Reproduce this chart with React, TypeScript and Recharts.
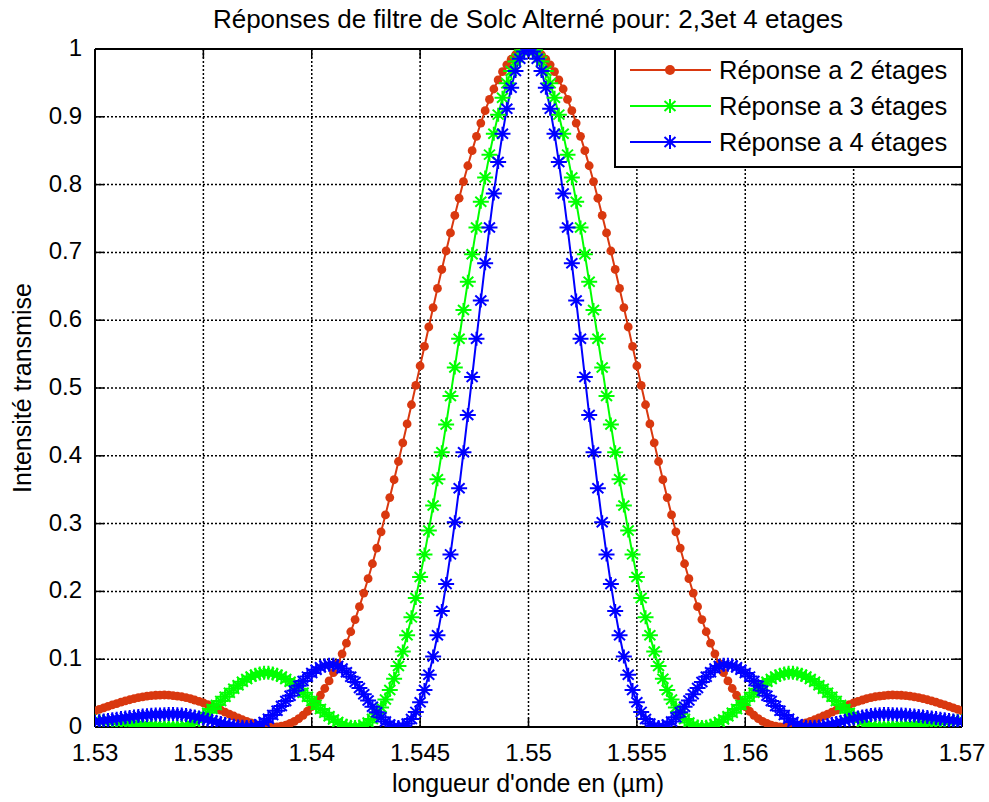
import React from 'react';
import { LineChart, Line, XAxis, YAxis, CartesianGrid, ReferenceLine } from 'recharts';

// wavelength sampling (um): 1.53:0.0002:1.57
const LAMBDA_START = 1.53;
const LAMBDA_STEP = 0.0002;
const LAMBDA_COUNT = 201;
const WAVELENGTH: number[] = Array.from({ length: LAMBDA_COUNT }, (_, i) =>
  Number((LAMBDA_START + i * LAMBDA_STEP).toFixed(4))
);

// transmitted intensity
const REPONSE_2: number[] = [
  0.0236, 0.0259, 0.0281, 0.0303, 0.0325, 0.0346, 0.0366, 0.0385, 0.0402, 0.0418,
  0.0433, 0.0445, 0.0455, 0.0463, 0.0468, 0.0471, 0.0472, 0.0469, 0.0464, 0.0456,
  0.0446, 0.0433, 0.0417, 0.0398, 0.0378, 0.0355, 0.0331, 0.0304, 0.0277, 0.0249,
  0.0220, 0.0191, 0.0162, 0.0134, 0.0107, 0.0082, 0.0060, 0.0040, 0.0023, 0.0011,
  0.0003, 0.0000, 0.0003, 0.0012, 0.0028, 0.0052, 0.0084, 0.0124, 0.0173, 0.0232,
  0.0300, 0.0379, 0.0468, 0.0568, 0.0679, 0.0801, 0.0935, 0.1080, 0.1236, 0.1405,
  0.1584, 0.1775, 0.1976, 0.2187, 0.2408, 0.2639, 0.2879, 0.3128, 0.3384, 0.3647,
  0.3916, 0.4191, 0.4470, 0.4753, 0.5038, 0.5326, 0.5613, 0.5900, 0.6186, 0.6469,
  0.6748, 0.7021, 0.7287, 0.7546, 0.7799, 0.8045, 0.8278, 0.8501, 0.8712, 0.8908,
  0.9090, 0.9256, 0.9410, 0.9544, 0.9665, 0.9766, 0.9849, 0.9915, 0.9962, 0.9991,
  1,
  0.9991, 0.9962, 0.9915, 0.9849, 0.9766, 0.9665, 0.9544, 0.9410, 0.9256, 0.9090,
  0.8908, 0.8712, 0.8501, 0.8278, 0.8045, 0.7799, 0.7546, 0.7287, 0.7021, 0.6748,
  0.6469, 0.6186, 0.5900, 0.5613, 0.5326, 0.5038, 0.4753, 0.4470, 0.4191, 0.3916,
  0.3647, 0.3384, 0.3128, 0.2879, 0.2639, 0.2408, 0.2187, 0.1976, 0.1775, 0.1584,
  0.1405, 0.1236, 0.1080, 0.0935, 0.0801, 0.0679, 0.0568, 0.0468, 0.0379, 0.0300,
  0.0232, 0.0173, 0.0124, 0.0084, 0.0052, 0.0028, 0.0012, 0.0003, 0.0000, 0.0003,
  0.0011, 0.0023, 0.0040, 0.0060, 0.0082, 0.0107, 0.0134, 0.0162, 0.0191, 0.0220,
  0.0249, 0.0277, 0.0304, 0.0331, 0.0355, 0.0378, 0.0398, 0.0417, 0.0433, 0.0446,
  0.0456, 0.0464, 0.0469, 0.0472, 0.0471, 0.0468, 0.0463, 0.0455, 0.0445, 0.0433,
  0.0418, 0.0402, 0.0385, 0.0366, 0.0346, 0.0325, 0.0303, 0.0281, 0.0259, 0.0236,
];

const REPONSE_3: number[] = [
  0.0090, 0.0089, 0.0088, 0.0085, 0.0081, 0.0075, 0.0070, 0.0063, 0.0056, 0.0049,
  0.0041, 0.0034, 0.0027, 0.0020, 0.0015, 0.0009, 0.0005, 0.0002, 0.0001, 0.0000,
  0.0005, 0.0019, 0.0042, 0.0073, 0.0112, 0.0158, 0.0209, 0.0265, 0.0324, 0.0385,
  0.0446, 0.0506, 0.0564, 0.0617, 0.0666, 0.0709, 0.0744, 0.0771, 0.0789, 0.0799,
  0.0799, 0.0789, 0.0771, 0.0744, 0.0709, 0.0666, 0.0617, 0.0564, 0.0506, 0.0446,
  0.0385, 0.0324, 0.0265, 0.0209, 0.0158, 0.0112, 0.0073, 0.0042, 0.0019, 0.0005,
  0.0000, 0.0007, 0.0027, 0.0065, 0.0119, 0.0194, 0.0289, 0.0406, 0.0547, 0.0712,
  0.0901, 0.1115, 0.1353, 0.1617, 0.1904, 0.2214, 0.2546, 0.2898, 0.3267, 0.3653,
  0.4053, 0.4463, 0.4881, 0.5304, 0.5728, 0.6150, 0.6566, 0.6974, 0.7368, 0.7747,
  0.8106, 0.8442, 0.8751, 0.9032, 0.9281, 0.9496, 0.9675, 0.9817, 0.9918, 0.9980,
  1,
  0.9980, 0.9918, 0.9817, 0.9675, 0.9496, 0.9281, 0.9032, 0.8751, 0.8442, 0.8106,
  0.7747, 0.7368, 0.6974, 0.6566, 0.6150, 0.5728, 0.5304, 0.4881, 0.4463, 0.4053,
  0.3653, 0.3267, 0.2898, 0.2546, 0.2214, 0.1904, 0.1617, 0.1353, 0.1115, 0.0901,
  0.0712, 0.0547, 0.0406, 0.0289, 0.0194, 0.0119, 0.0065, 0.0027, 0.0007, 0.0000,
  0.0005, 0.0019, 0.0042, 0.0073, 0.0112, 0.0158, 0.0209, 0.0265, 0.0324, 0.0385,
  0.0446, 0.0506, 0.0564, 0.0617, 0.0666, 0.0709, 0.0744, 0.0771, 0.0789, 0.0799,
  0.0799, 0.0789, 0.0771, 0.0744, 0.0709, 0.0666, 0.0617, 0.0564, 0.0506, 0.0446,
  0.0385, 0.0324, 0.0265, 0.0209, 0.0158, 0.0112, 0.0073, 0.0042, 0.0019, 0.0005,
  0.0000, 0.0001, 0.0002, 0.0005, 0.0009, 0.0015, 0.0020, 0.0027, 0.0034, 0.0041,
  0.0049, 0.0056, 0.0063, 0.0070, 0.0075, 0.0081, 0.0085, 0.0088, 0.0089, 0.0090,
];

const REPONSE_4: number[] = [
  0.0076, 0.0086, 0.0095, 0.0104, 0.0114, 0.0123, 0.0131, 0.0140, 0.0148, 0.0155,
  0.0162, 0.0168, 0.0174, 0.0179, 0.0183, 0.0186, 0.0188, 0.0190, 0.0190, 0.0188,
  0.0184, 0.0177, 0.0167, 0.0154, 0.0140, 0.0124, 0.0108, 0.0091, 0.0074, 0.0058,
  0.0043, 0.0029, 0.0018, 0.0009, 0.0003, 0.0000, 0.0002, 0.0014, 0.0039, 0.0075,
  0.0122, 0.0177, 0.0241, 0.0311, 0.0384, 0.0460, 0.0536, 0.0609, 0.0679, 0.0743,
  0.0798, 0.0845, 0.0881, 0.0906, 0.0918, 0.0918, 0.0899, 0.0862, 0.0809, 0.0742,
  0.0663, 0.0576, 0.0483, 0.0390, 0.0300, 0.0217, 0.0143, 0.0082, 0.0037, 0.0009,
  0.0000, 0.0012, 0.0050, 0.0119, 0.0223, 0.0365, 0.0547, 0.0772, 0.1041, 0.1353,
  0.1710, 0.2108, 0.2546, 0.3019, 0.3523, 0.4053, 0.4602, 0.5163, 0.5728, 0.6289,
  0.6839, 0.7368, 0.7869, 0.8332, 0.8751, 0.9119, 0.9429, 0.9675, 0.9855, 0.9963,
  1,
  0.9963, 0.9855, 0.9675, 0.9429, 0.9119, 0.8751, 0.8332, 0.7869, 0.7368, 0.6839,
  0.6289, 0.5728, 0.5163, 0.4602, 0.4053, 0.3523, 0.3019, 0.2546, 0.2108, 0.1710,
  0.1353, 0.1041, 0.0772, 0.0547, 0.0365, 0.0223, 0.0119, 0.0050, 0.0012, 0.0000,
  0.0009, 0.0037, 0.0082, 0.0143, 0.0217, 0.0300, 0.0390, 0.0483, 0.0576, 0.0663,
  0.0742, 0.0809, 0.0862, 0.0899, 0.0918, 0.0918, 0.0906, 0.0881, 0.0845, 0.0798,
  0.0743, 0.0679, 0.0609, 0.0536, 0.0460, 0.0384, 0.0311, 0.0241, 0.0177, 0.0122,
  0.0075, 0.0039, 0.0014, 0.0002, 0.0000, 0.0003, 0.0009, 0.0018, 0.0029, 0.0043,
  0.0058, 0.0074, 0.0091, 0.0108, 0.0124, 0.0140, 0.0154, 0.0167, 0.0177, 0.0184,
  0.0188, 0.0190, 0.0190, 0.0188, 0.0186, 0.0183, 0.0179, 0.0174, 0.0168, 0.0162,
  0.0155, 0.0148, 0.0140, 0.0131, 0.0123, 0.0114, 0.0104, 0.0095, 0.0086, 0.0076,
];

const X_TICKS = [1.53, 1.535, 1.54, 1.545, 1.55, 1.555, 1.56, 1.565, 1.57];
const Y_TICKS = [0, 0.1, 0.2, 0.3, 0.4, 0.5, 0.6, 0.7, 0.8, 0.9, 1];

const SERIES_NAMES = ['Réponse a 2 étages', 'Réponse a 3 étages', 'Réponse a 4 étages'];
const TITLE = 'Réponses de filtre de Solc Alterné pour: 2,3et 4 etages';
const X_LABEL = "longueur d'onde en (µm)";
const Y_LABEL = 'Intensité transmise';

const RED = '#d9380f';
const GREEN = '#00ff00';
const BLUE = '#0000ff';
const FONT = '"Liberation Sans", Arial, Helvetica, sans-serif';

const DATA = WAVELENGTH.map((lambda, i) => ({
  lambda,
  r2: REPONSE_2[i],
  r3: REPONSE_3[i],
  r4: REPONSE_4[i],
}));

// plot geometry (px)
const W = 989;
const H = 802;
const M = { top: 49, right: 27, bottom: 35, left: 35 };
const PLOT_W = W - M.left - 60 - M.right;
const PLOT_H = H - M.top - 40 - M.bottom;
const TICK_PX = 9;
const X_MIN = 1.53;
const X_MAX = 1.57;
const TICK_DX = (TICK_PX / PLOT_W) * (X_MAX - X_MIN);
const TICK_DY = TICK_PX / PLOT_H;

const starPath = (cx: number, cy: number) =>
  `M${cx - 8},${cy}H${cx + 8}M${cx},${cy - 7}V${cy + 7}` +
  `M${cx - 5.5},${cy - 5}L${cx + 5.5},${cy + 5}M${cx - 5.5},${cy + 5}L${cx + 5.5},${cy - 5}`;

const renderCircle = (props: any) => {
  const { cx, cy, index } = props;
  if (cx == null || cy == null) return <g key={`c${index}`} />;
  return <circle key={`c${index}`} cx={cx} cy={cy} r={4.4} fill={RED} />;
};

const makeStar = (color: string) => (props: any) => {
  const { cx, cy, index } = props;
  if (cx == null || cy == null) return <g key={`s${index}`} />;
  return <path key={`s${index}`} d={starPath(cx, cy)} stroke={color} strokeWidth={2} fill="none" />;
};

const renderXTick = (props: any) => {
  const { x, y, payload } = props;
  return (
    <text x={x} y={y + 34} textAnchor="middle" fontSize={24} fontFamily={FONT} fill="#000">
      {String(payload.value)}
    </text>
  );
};

const renderYTick = (props: any) => {
  const { x, y, payload } = props;
  return (
    <text x={x - 13} y={y + 7} textAnchor="end" fontSize={24} fontFamily={FONT} fill="#000">
      {String(payload.value)}
    </text>
  );
};

const LegendBox = () => {
  const rows = [
    { name: SERIES_NAMES[0], color: RED, kind: 'dot' },
    { name: SERIES_NAMES[1], color: GREEN, kind: 'star' },
    { name: SERIES_NAMES[2], color: BLUE, kind: 'star' },
  ];
  return (
    <svg width={349} height={120} style={{ position: 'absolute', left: 614, top: 48 }}>
      <rect x={1} y={1} width={347} height={118} fill="#fff" stroke="#000" strokeWidth={2} />
      {rows.map((r, i) => {
        const cy = 22 + i * 36;
        return (
          <g key={r.name}>
            <line x1={16} x2={97} y1={cy} y2={cy} stroke={r.color} strokeWidth={2} />
            {r.kind === 'dot' ? (
              <circle cx={56} cy={cy} r={5} fill={r.color} />
            ) : (
              <path d={starPath(56, cy)} stroke={r.color} strokeWidth={2} fill="none" />
            )}
            <text x={105} y={cy + 9} fontSize={25.5} fontFamily={FONT} fill="#000">
              {r.name}
            </text>
          </g>
        );
      })}
    </svg>
  );
};

export default function App() {
  return (
    <div style={{ position: 'absolute', left: 0, top: 0, width: W, height: H, background: '#fff' }}>
      <LineChart width={W} height={H} data={DATA} margin={M}>
        <CartesianGrid stroke="#000" strokeDasharray="2 2" strokeWidth={1.5} />
        <XAxis
          dataKey="lambda"
          type="number"
          domain={[X_MIN, X_MAX]}
          ticks={X_TICKS}
          interval={0}
          allowDataOverflow
          height={40}
          tickLine={false}
          tickSize={0}
          tickMargin={0}
          axisLine={{ stroke: '#000', strokeWidth: 2 }}
          tick={renderXTick}
        />
        <YAxis
          type="number"
          domain={[0, 1]}
          ticks={Y_TICKS}
          interval={0}
          allowDataOverflow
          width={60}
          tickLine={false}
          tickSize={0}
          tickMargin={0}
          axisLine={{ stroke: '#000', strokeWidth: 2 }}
          tick={renderYTick}
        />
        <ReferenceLine y={1} stroke="#000" strokeWidth={2} />
        <ReferenceLine x={X_MAX} stroke="#000" strokeWidth={2} />
        {X_TICKS.map((t) => (
          <ReferenceLine
            key={`xb${t}`}
            segment={[{ x: t, y: 0 }, { x: t, y: TICK_DY }]}
            stroke="#000"
            strokeWidth={1.5}
          />
        ))}
        {X_TICKS.map((t) => (
          <ReferenceLine
            key={`xt${t}`}
            segment={[{ x: t, y: 1 }, { x: t, y: 1 - TICK_DY }]}
            stroke="#000"
            strokeWidth={1.5}
          />
        ))}
        {Y_TICKS.map((t) => (
          <ReferenceLine
            key={`yl${t}`}
            segment={[{ x: X_MIN, y: t }, { x: X_MIN + TICK_DX, y: t }]}
            stroke="#000"
            strokeWidth={1.5}
          />
        ))}
        {Y_TICKS.map((t) => (
          <ReferenceLine
            key={`yr${t}`}
            segment={[{ x: X_MAX, y: t }, { x: X_MAX - TICK_DX, y: t }]}
            stroke="#000"
            strokeWidth={1.5}
          />
        ))}
        <Line
          type="linear"
          dataKey="r2"
          name={SERIES_NAMES[0]}
          stroke={RED}
          strokeWidth={2}
          dot={renderCircle}
          activeDot={false}
          isAnimationActive={false}
        />
        <Line
          type="linear"
          dataKey="r3"
          name={SERIES_NAMES[1]}
          stroke={GREEN}
          strokeWidth={2}
          dot={makeStar(GREEN)}
          activeDot={false}
          isAnimationActive={false}
        />
        <Line
          type="linear"
          dataKey="r4"
          name={SERIES_NAMES[2]}
          stroke={BLUE}
          strokeWidth={2}
          dot={makeStar(BLUE)}
          activeDot={false}
          isAnimationActive={false}
        />
      </LineChart>

      <svg width={W} height={H} style={{ position: 'absolute', left: 0, top: 0, pointerEvents: 'none' }}>
        <text x={528} y={28} textAnchor="middle" fontSize={26} fontFamily={FONT} fill="#000">
          {TITLE}
        </text>
        <text x={528} y={792} textAnchor="middle" fontSize={25} fontFamily={FONT} fill="#000">
          {X_LABEL}
        </text>
        <text
          x={0}
          y={0}
          transform="translate(31,388) rotate(-90)"
          textAnchor="middle"
          fontSize={25}
          fontFamily={FONT}
          fill="#000"
        >
          {Y_LABEL}
        </text>
      </svg>
      <LegendBox />
    </div>
  );
}
